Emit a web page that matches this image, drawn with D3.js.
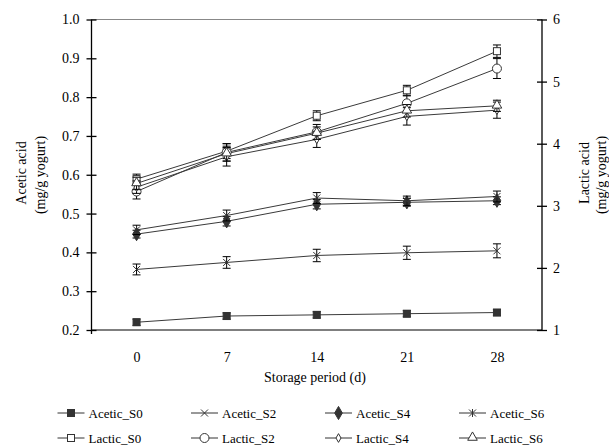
<!DOCTYPE html>
<html>
<head>
<meta charset="utf-8">
<script src="https://cdn.jsdelivr.net/npm/d3@7"></script>
<style>
  body { margin: 0; background: #fff; }
  svg text { font-family: "Liberation Serif", "Times New Roman", serif; fill: #000; }
</style>
</head>
<body>
<svg id="chart" width="609" height="446"></svg>
<script>
// storage days (categories)
var days = [0, 7, 14, 21, 28];

// acetic acid, left axis (mg/g yogurt)
var aceticS0 = [0.220, 0.236, 0.239, 0.242, 0.245];
var aceticS2 = [0.356, 0.374, 0.392, 0.399, 0.404];
var aceticS4 = [0.447, 0.480, 0.524, 0.529, 0.533];
var aceticS6 = [0.458, 0.495, 0.540, 0.533, 0.544];
var aceticS0Err = [0.008, 0.008, 0.008, 0.008, 0.008];
var aceticS2Err = [0.014, 0.015, 0.016, 0.017, 0.018];
var aceticS4Err = [0.010, 0.012, 0.012, 0.010, 0.010];
var aceticS6Err = [0.012, 0.014, 0.014, 0.012, 0.014];

// lactic acid, right axis (mg/g yogurt)
var lacticS0 = [3.43, 3.88, 4.45, 4.86, 5.49];
var lacticS2 = [3.23, 3.86, 4.19, 4.65, 5.21];
var lacticS4 = [3.30, 3.79, 4.07, 4.44, 4.54];
var lacticS6 = [3.36, 3.84, 4.17, 4.53, 4.61];
var lacticS0Err = [0.08, 0.12, 0.08, 0.08, 0.10];
var lacticS2Err = [0.12, 0.14, 0.12, 0.12, 0.16];
var lacticS4Err = [0.10, 0.15, 0.13, 0.14, 0.13];
var lacticS6Err = [0.10, 0.12, 0.10, 0.10, 0.09];

var leftTicks = [0.2, 0.3, 0.4, 0.5, 0.6, 0.7, 0.8, 0.9, 1.0];
var rightTicks = [1, 2, 3, 4, 5, 6];

var series = [
  {name: "Acetic_S0", axis: "L", values: aceticS0, err: aceticS0Err, marker: "fsquare"},
  {name: "Acetic_S2", axis: "L", values: aceticS2, err: aceticS2Err, marker: "x"},
  {name: "Acetic_S4", axis: "L", values: aceticS4, err: aceticS4Err, marker: "fdiamond"},
  {name: "Acetic_S6", axis: "L", values: aceticS6, err: aceticS6Err, marker: "star"},
  {name: "Lactic_S0", axis: "R", values: lacticS0, err: lacticS0Err, marker: "osquare"},
  {name: "Lactic_S2", axis: "R", values: lacticS2, err: lacticS2Err, marker: "ocircle"},
  {name: "Lactic_S4", axis: "R", values: lacticS4, err: lacticS4Err, marker: "odiamond"},
  {name: "Lactic_S6", axis: "R", values: lacticS6, err: lacticS6Err, marker: "otriangle"}
];

var plotLeft = 91.5, plotRight = 542, plotTop = 19.5, plotBottom = 330;

var svg = d3.select("#chart");

var x = d3.scalePoint().domain(days).range([plotLeft, plotRight]).padding(0.5);
var yL = d3.scaleLinear().domain([0.2, 1.0]).range([plotBottom, plotTop]);
var yR = d3.scaleLinear().domain([1, 6]).range([plotBottom, plotTop]);

// top border line
svg.append("line")
  .attr("x1", plotLeft).attr("x2", plotRight)
  .attr("y1", plotTop).attr("y2", plotTop)
  .attr("stroke", "#888").attr("stroke-width", 1);

// bottom category axis
svg.append("line")
  .attr("x1", plotLeft).attr("x2", plotRight)
  .attr("y1", plotBottom).attr("y2", plotBottom)
  .attr("stroke", "#555").attr("stroke-width", 1.5);

var xAxis = d3.axisBottom(x).tickSize(0).tickPadding(22);
svg.append("g")
  .attr("transform", "translate(0," + plotBottom + ")")
  .call(xAxis)
  .call(g => g.select(".domain").remove())
  .selectAll("text")
  .style("font-size", "14px")
  .style("font-family", "Liberation Serif");

// left axis
var yAxisL = d3.axisLeft(yL).tickValues(leftTicks).tickFormat(d3.format(".1f"))
  .tickSize(5).tickPadding(7);
svg.append("g")
  .attr("transform", "translate(" + plotLeft + ",0)")
  .call(yAxisL)
  .call(g => g.select(".domain").attr("d", "M0," + (plotBottom + 4) + "V" + plotTop).attr("stroke-width", 1.3))
  .call(g => g.selectAll(".tick line").attr("x1", 5).attr("x2", -5).attr("stroke-width", 1.3))
  .selectAll("text")
  .style("font-size", "14px")
  .style("font-family", "Liberation Serif");

// right axis
var yAxisR = d3.axisRight(yR).tickValues(rightTicks).tickFormat(d3.format("d"))
  .tickSize(5).tickPadding(6);
svg.append("g")
  .attr("transform", "translate(" + plotRight + ",0)")
  .call(yAxisR)
  .call(g => g.select(".domain").attr("d", "M0," + plotBottom + "V" + plotTop).attr("stroke-width", 1.3))
  .call(g => g.selectAll(".tick line").attr("x1", -5).attr("x2", 5).attr("stroke-width", 1.3))
  .selectAll("text")
  .style("font-size", "14px")
  .style("font-family", "Liberation Serif");

// axis titles
svg.append("text")
  .attr("text-anchor", "middle")
  .attr("x", 315).attr("y", 382)
  .style("font-size", "14px")
  .text("Storage period (d)");

function vTitle(cx, cy, txt) {
  svg.append("text")
    .attr("text-anchor", "middle")
    .attr("dy", "0.35em")
    .attr("transform", "translate(" + cx + "," + cy + ") rotate(-90)")
    .style("font-size", "14px")
    .text(txt);
}
vTitle(21, 173, "Acetic acid");
vTitle(40, 175, "(mg/g yogurt)");
vTitle(584, 173, "Lactic acid");
vTitle(601, 175, "(mg/g yogurt)");

// marker drawing
function drawMarker(g, type, cx, cy) {
  var col = "#333";
  if (type == "fsquare") {
    g.append("rect").attr("x", cx - 3.5).attr("y", cy - 3.5).attr("width", 7).attr("height", 7)
      .attr("fill", col).attr("stroke", col);
  } else if (type == "osquare") {
    g.append("rect").attr("x", cx - 3.5).attr("y", cy - 3.5).attr("width", 7).attr("height", 7)
      .attr("fill", "#fff").attr("stroke", col).attr("stroke-width", 1);
  } else if (type == "x") {
    g.append("path").attr("d", "M" + (cx - 3.5) + "," + (cy - 3.5) + "L" + (cx + 3.5) + "," + (cy + 3.5) +
      "M" + (cx - 3.5) + "," + (cy + 3.5) + "L" + (cx + 3.5) + "," + (cy - 3.5))
      .attr("stroke", col).attr("stroke-width", 1).attr("fill", "none");
  } else if (type == "star") {
    g.append("path").attr("d", "M" + (cx - 3.5) + "," + (cy - 3.5) + "L" + (cx + 3.5) + "," + (cy + 3.5) +
      "M" + (cx - 3.5) + "," + (cy + 3.5) + "L" + (cx + 3.5) + "," + (cy - 3.5) +
      "M" + cx + "," + (cy - 4) + "L" + cx + "," + (cy + 4))
      .attr("stroke", col).attr("stroke-width", 1).attr("fill", "none");
  } else if (type == "fdiamond") {
    g.append("path").attr("d", d3.symbol(d3.symbolDiamond, 50)())
      .attr("transform", "translate(" + cx + "," + cy + ")")
      .attr("fill", col).attr("stroke", col);
  } else if (type == "odiamond") {
    g.append("path").attr("d", d3.symbol(d3.symbolDiamond, 22)())
      .attr("transform", "translate(" + cx + "," + cy + ")")
      .attr("fill", "#fff").attr("stroke", col);
  } else if (type == "ocircle") {
    g.append("circle").attr("cx", cx).attr("cy", cy).attr("r", 4.5)
      .attr("fill", "#fff").attr("stroke", col);
  } else if (type == "otriangle") {
    g.append("path").attr("d", d3.symbol(d3.symbolTriangle, 40)())
      .attr("transform", "translate(" + cx + "," + (cy - 0.5) + ")")
      .attr("fill", "#fff").attr("stroke", col);
  }
}

var plot = svg.append("g");

series.forEach(function(s) {
  var y = s.axis == "L" ? yL : yR;
  var pts = days.map((d, i) => ({day: d, v: s.values[i], e: s.err[i]}));
  var line = d3.line().x(d => x(d.day)).y(d => y(d.v));
  plot.append("path")
    .attr("d", line(pts))
    .attr("fill", "none")
    .attr("stroke", "#3a3a3a")
    .attr("stroke-width", 1);
});

series.forEach(function(s) {
  var y = s.axis == "L" ? yL : yR;
  var g = plot.append("g");
  days.forEach(function(d, i) {
    var cx = x(d), v = s.values[i], e = s.err[i];
    var y1 = y(v + e), y2 = y(v - e);
    g.append("path")
      .attr("d", "M" + cx + "," + y1 + "V" + y2 +
        "M" + (cx - 4) + "," + y1 + "H" + (cx + 4) +
        "M" + (cx - 4) + "," + y2 + "H" + (cx + 4))
      .attr("stroke", "#000").attr("stroke-width", 1).attr("fill", "none");
    drawMarker(g, s.marker, cx, y(v));
  });
});

// legend
var legCols = [57.5, 191, 325, 459];
var legRows = [413, 438];
series.forEach(function(s, i) {
  var lx = legCols[i % 4], ly = legRows[Math.floor(i / 4)];
  var g = svg.append("g");
  g.append("line").attr("x1", lx).attr("x2", lx + 27).attr("y1", ly).attr("y2", ly)
    .attr("stroke", "#333").attr("stroke-width", 1);
  drawMarker(g, s.marker, lx + 13.5, ly);
  g.append("text")
    .attr("x", lx + 31).attr("y", ly).attr("dy", "0.35em")
    .style("font-size", "13px")
    .text(s.name);
});
</script>
</body>
</html>
